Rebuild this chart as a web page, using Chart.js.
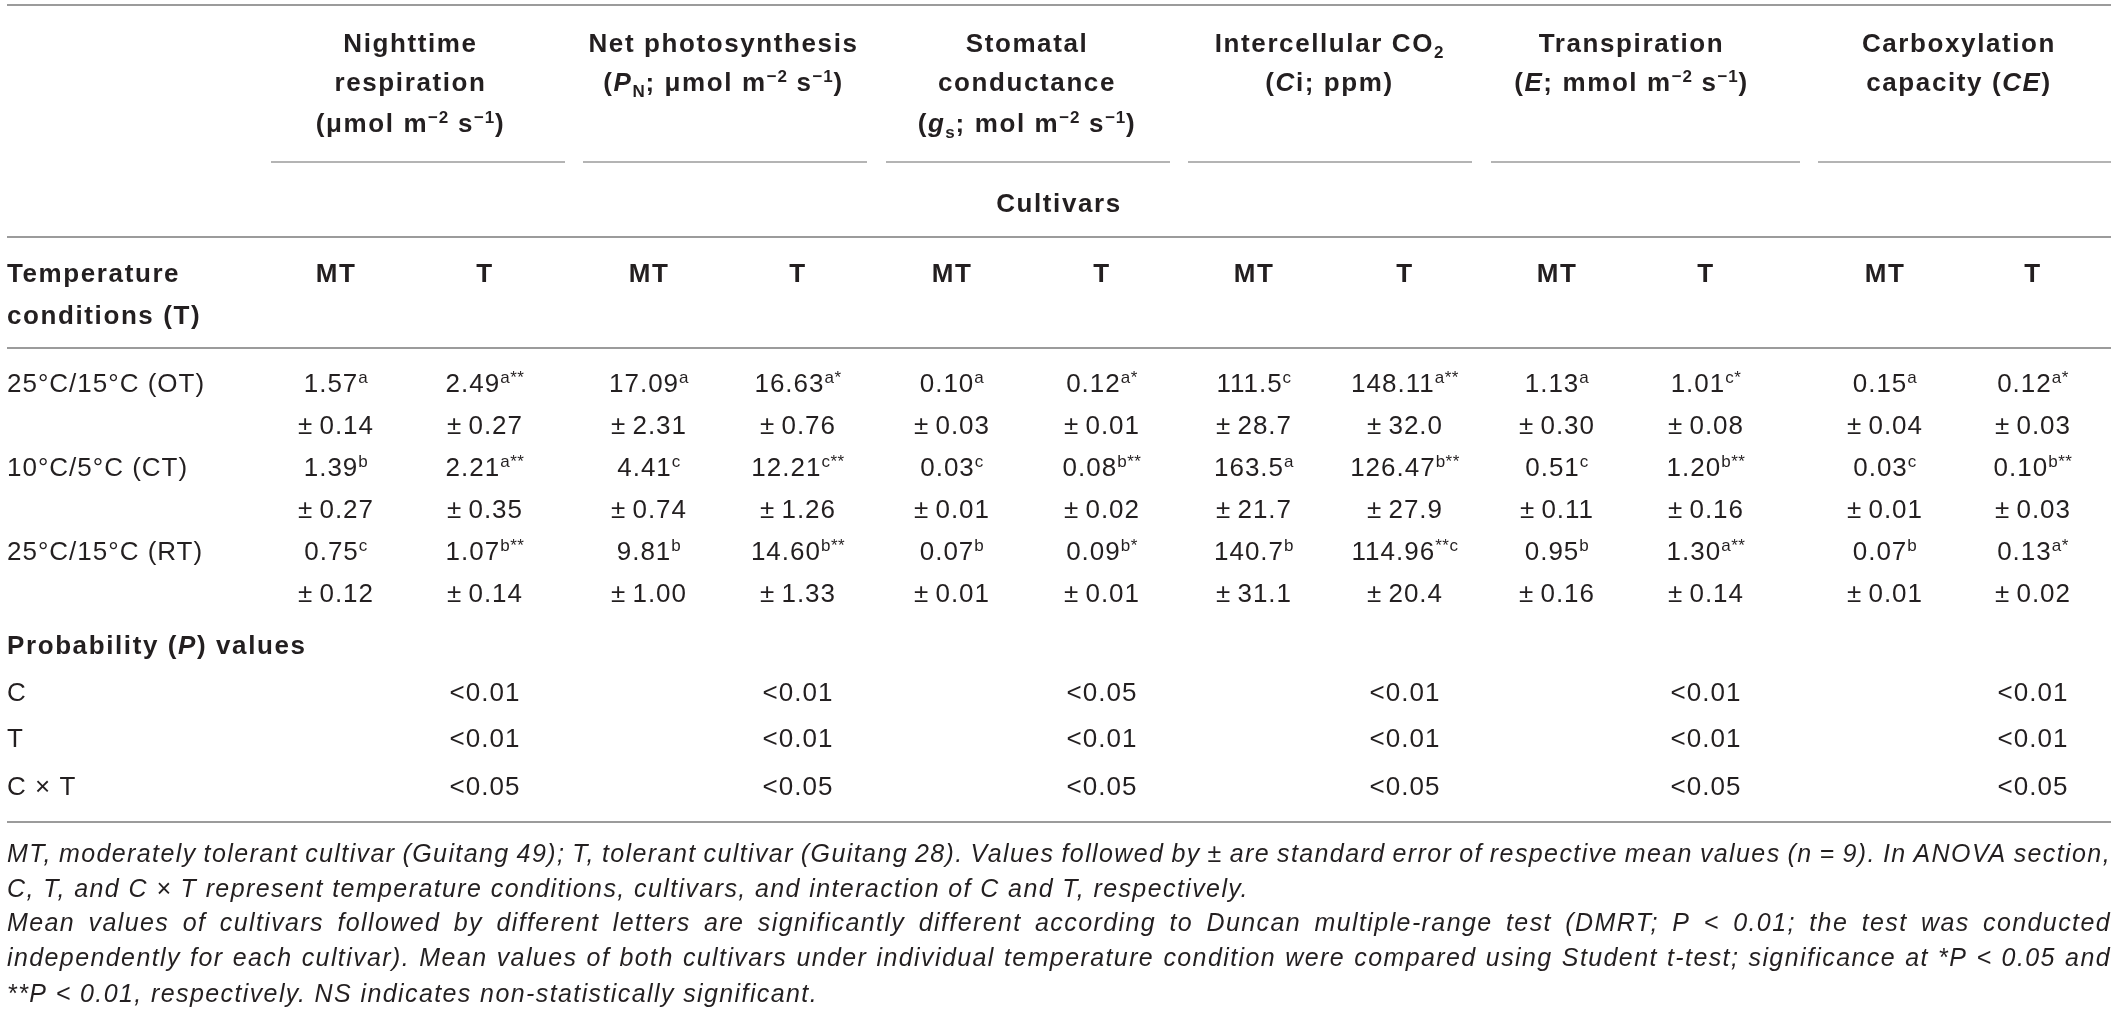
<!DOCTYPE html>
<html>
<head>
<meta charset="utf-8">
<script src="https://cdn.jsdelivr.net/npm/chart.js@4.4.1/dist/chart.umd.min.js"></script>
<style>
  html, body { margin: 0; padding: 0; background: #fff; }
  #wrap { width: 2120px; height: 1019px; }
</style>
</head>
<body>
<div id="wrap"><canvas id="tableChart"></canvas></div>
<script>
// ---- table content ----
// markup: {i:..} italic, {sup:..} superscript, {sub:..} subscript
const traits = [
  ['Nighttime', 'respiration', '(μmol m{sup:−2} s{sup:−1})'],
  ['Net photosynthesis', '({i:P}{sub:N}; μmol m{sup:−2} s{sup:−1})'],
  ['Stomatal', 'conductance', '({i:g}{sub:s}; mol m{sup:−2} s{sup:−1})'],
  ['Intercellular CO{sub:2}', '({i:C}i; ppm)'],
  ['Transpiration', '({i:E}; mmol m{sup:−2} s{sup:−1})'],
  ['Carboxylation', 'capacity ({i:CE})'],
];
const cultivars = ['MT', 'T'];
const conditions = ['25°C/15°C (OT)', '10°C/5°C (CT)', '25°C/15°C (RT)'];

// rows = traits, columns = conditions (OT, CT, RT)
const meansMT = [
  [1.57, 1.39, 0.75],
  [17.09, 4.41, 9.81],
  [0.10, 0.03, 0.07],
  [111.5, 163.5, 140.7],
  [1.13, 0.51, 0.95],
  [0.15, 0.03, 0.07],
];
const meansT = [
  [2.49, 2.21, 1.07],
  [16.63, 12.21, 14.60],
  [0.12, 0.08, 0.09],
  [148.11, 126.47, 114.96],
  [1.01, 1.20, 1.30],
  [0.12, 0.10, 0.13],
];
const seMT = [
  [0.14, 0.27, 0.12],
  [2.31, 0.74, 1.00],
  [0.03, 0.01, 0.01],
  [28.7, 21.7, 31.1],
  [0.30, 0.11, 0.16],
  [0.04, 0.01, 0.01],
];
const seT = [
  [0.27, 0.35, 0.14],
  [0.76, 1.26, 1.33],
  [0.01, 0.02, 0.01],
  [32.0, 27.9, 20.4],
  [0.08, 0.16, 0.14],
  [0.03, 0.03, 0.02],
];
const lettersMT = [
  ['a', 'b', 'c'],
  ['a', 'c', 'b'],
  ['a', 'c', 'b'],
  ['c', 'a', 'b'],
  ['a', 'c', 'b'],
  ['a', 'c', 'b'],
];
const lettersT = [
  ['a**', 'a**', 'b**'],
  ['a*', 'c**', 'b**'],
  ['a*', 'b**', 'b*'],
  ['a**', 'b**', '**c'],
  ['c*', 'b**', 'a**'],
  ['a*', 'b**', 'a*'],
];
// decimals shown, per trait [MT, T]
const meanDecimals = [[2, 2], [2, 2], [2, 2], [1, 2], [2, 2], [2, 2]];
const seDecimals = [[2, 2], [2, 2], [2, 2], [1, 1], [2, 2], [2, 2]];

const probLabels = ['C', 'T', 'C × T'];
const probC = ['<0.01', '<0.01', '<0.05', '<0.01', '<0.01', '<0.01'];
const probT = ['<0.01', '<0.01', '<0.01', '<0.01', '<0.01', '<0.01'];
const probCT = ['<0.05', '<0.05', '<0.05', '<0.05', '<0.05', '<0.05'];

const footnotes = [
  ['MT, moderately tolerant cultivar (Guitang 49); T, tolerant cultivar (Guitang 28). Values followed by ± are standard error of respective mean values (n = 9). In ANOVA section,', true],
  ['C, T, and C × T represent temperature conditions, cultivars, and interaction of C and T, respectively.', false],
  ['Mean values of cultivars followed by different letters are significantly different according to Duncan multiple-range test (DMRT; P < 0.01; the test was conducted', true],
  ['independently for each cultivar). Mean values of both cultivars under individual temperature condition were compared using Student t-test; significance at *P < 0.05 and', true],
  ['**P < 0.01, respectively. NS indicates non-statistically significant.', false],
];

// ---- layout (scale units) ----
const colX = [336, 485, 649, 798, 952, 1102, 1254, 1405, 1557, 1706, 1885, 2033];
const groupRule = [[271, 565], [583, 867], [886, 1170], [1188, 1472], [1491, 1800], [1818, 2111]];
const leftX = 7, rightX = 2111;
const headY = [43, 82, 123];
const cultivarsY = 203;
const colHeadY = [273, 315];
const cellY = [383, 467, 551];
const seStep = 42;
const probTitleY = 645;
const probY = [692, 738, 786];
const footY = [855, 890, 924, 959, 995];
const fullRules = [5, 237, 348, 822];
const groupRuleY = 162;

const FAMILY = '"Liberation Sans", Arial, Helvetica, sans-serif';
const INK = '#231f20';
const RULE = '#9b9b9b';

// ---- cell points for the scatter datasets ----
const meanCells = [], seCells = [], pCells = [];
traits.forEach((_, g) => {
  cultivars.forEach((cv, k) => {
    const col = 2 * g + k;
    const means = k ? meansT : meansMT, ses = k ? seT : seMT, lets = k ? lettersT : lettersMT;
    conditions.forEach((_, r) => {
      meanCells.push({ x: colX[col], y: cellY[r],
        label: means[g][r].toFixed(meanDecimals[g][k]) + '{sup:' + lets[g][r] + '}' });
      seCells.push({ x: colX[col], y: cellY[r] + seStep,
        label: '±\u2009' + ses[g][r].toFixed(seDecimals[g][k]) });
    });
  });
  [probC, probT, probCT].forEach((arr, r) => {
    pCells.push({ x: colX[2 * g + 1], y: probY[r], label: arr[g] });
  });
});

function parseRich(str) {
  const out = [];
  const re = /\{(i|sup|sub):([^}]*)\}/g;
  let last = 0, m;
  while ((m = re.exec(str))) {
    if (m.index > last) out.push({ t: str.slice(last, m.index), k: '' });
    out.push({ t: m[2], k: m[1] });
    last = re.lastIndex;
  }
  if (last < str.length) out.push({ t: str.slice(last), k: '' });
  return out;
}
function setFont(ctx, seg, base) {
  const small = seg.k === 'sup' || seg.k === 'sub';
  const size = small ? Math.round(base.size * 0.66) : base.size;
  const style = (seg.k === 'i' || base.italic) ? 'italic ' : '';
  ctx.font = style + base.weight + ' ' + size + 'px ' + FAMILY;
  ctx.letterSpacing = (small ? base.ls * 0.5 : base.ls) + 'px';
}
function drawRich(ctx, str, x, y, base, align) {
  const segs = parseRich(str);
  let w = 0;
  segs.forEach(s => { setFont(ctx, s, base); s.w = ctx.measureText(s.t).width; w += s.w; });
  let cx = align === 'center' ? x - w / 2 : x;
  const baseY = y + base.size * 0.36;
  ctx.textAlign = 'left';
  ctx.textBaseline = 'alphabetic';
  segs.forEach(s => {
    setFont(ctx, s, base);
    const dy = s.k === 'sup' ? -base.size * 0.36 : s.k === 'sub' ? base.size * 0.2 : 0;
    ctx.fillText(s.t, cx, baseY + dy);
    cx += s.w;
  });
  ctx.letterSpacing = '0px';
}
function drawJustified(ctx, text, x0, x1, y, justify) {
  const words = text.split(' ');
  const widths = words.map(wd => ctx.measureText(wd).width);
  const total = widths.reduce((a, b) => a + b, 0);
  const space = ctx.measureText(' ').width;
  const gap = justify ? Math.max(space * 0.6, (x1 - x0 - total) / (words.length - 1)) : space;
  let cx = x0;
  words.forEach((wd, i) => { ctx.fillText(wd, cx, y); cx += widths[i] + gap; });
}

const BOLD = { weight: 'bold', size: 26, italic: false, ls: 1.6 };
const BODY = { weight: 'normal', size: 26, italic: false, ls: 1 };

const tablePlugin = {
  id: 'tableText',
  afterDatasetsDraw(chart) {
    const { ctx, scales: { x, y } } = chart;
    const px = v => x.getPixelForValue(v), py = v => y.getPixelForValue(v);
    ctx.save();
    ctx.fillStyle = INK;

    // rules
    ctx.strokeStyle = RULE;
    ctx.lineWidth = 2;
    fullRules.forEach(r => {
      ctx.beginPath(); ctx.moveTo(px(leftX), py(r)); ctx.lineTo(px(rightX), py(r)); ctx.stroke();
    });
    ctx.lineWidth = 1.5;
    groupRule.forEach(([a, b]) => {
      ctx.beginPath(); ctx.moveTo(px(a), py(groupRuleY)); ctx.lineTo(px(b), py(groupRuleY)); ctx.stroke();
    });

    // trait headers
    traits.forEach((lines, g) => {
      const cx = px((colX[2 * g] + colX[2 * g + 1]) / 2);
      lines.forEach((ln, i) => drawRich(ctx, ln, cx, py(headY[i]), BOLD, 'center'));
    });
    drawRich(ctx, 'Cultivars', px((leftX + rightX) / 2), py(cultivarsY), BOLD, 'center');
    drawRich(ctx, 'Temperature', px(leftX), py(colHeadY[0]), BOLD, 'left');
    drawRich(ctx, 'conditions (T)', px(leftX), py(colHeadY[1]), BOLD, 'left');
    colX.forEach((c, i) => drawRich(ctx, cultivars[i % 2], px(c), py(colHeadY[0]), BOLD, 'center'));

    // row labels
    conditions.forEach((c, r) => drawRich(ctx, c, px(leftX), py(cellY[r]), BODY, 'left'));
    drawRich(ctx, 'Probability ({i:P}) values', px(leftX), py(probTitleY), BOLD, 'left');
    probLabels.forEach((l, r) => drawRich(ctx, l, px(leftX), py(probY[r]), BODY, 'left'));

    // cells, positioned by the scatter points
    chart.data.datasets.forEach((ds, di) => {
      chart.getDatasetMeta(di).data.forEach((pt, i) => {
        drawRich(ctx, ds.data[i].label, pt.x, pt.y, BODY, 'center');
      });
    });

    // footnotes
    ctx.font = 'italic normal 25px ' + FAMILY;
    ctx.letterSpacing = '1.4px';
    ctx.textAlign = 'left';
    ctx.textBaseline = 'middle';
    footnotes.forEach(([t, j], i) => drawJustified(ctx, t, px(leftX), px(rightX), py(footY[i]), j));
    ctx.letterSpacing = '0px';
    ctx.restore();
  }
};

new Chart(document.getElementById('tableChart'), {
  type: 'scatter',
  data: {
    datasets: [
      { label: 'means', data: meanCells, pointRadius: 0 },
      { label: 'se', data: seCells, pointRadius: 0 },
      { label: 'p', data: pCells, pointRadius: 0 },
    ],
  },
  options: {
    responsive: true,
    maintainAspectRatio: false,
    animation: false,
    events: [],
    layout: { padding: 0 },
    scales: {
      x: { type: 'linear', min: 0, max: 2120, display: false },
      y: { type: 'linear', min: 0, max: 1019, reverse: true, display: false },
    },
    plugins: { legend: { display: false }, tooltip: { enabled: false } },
  },
  plugins: [tablePlugin],
});
</script>
</body>
</html>
